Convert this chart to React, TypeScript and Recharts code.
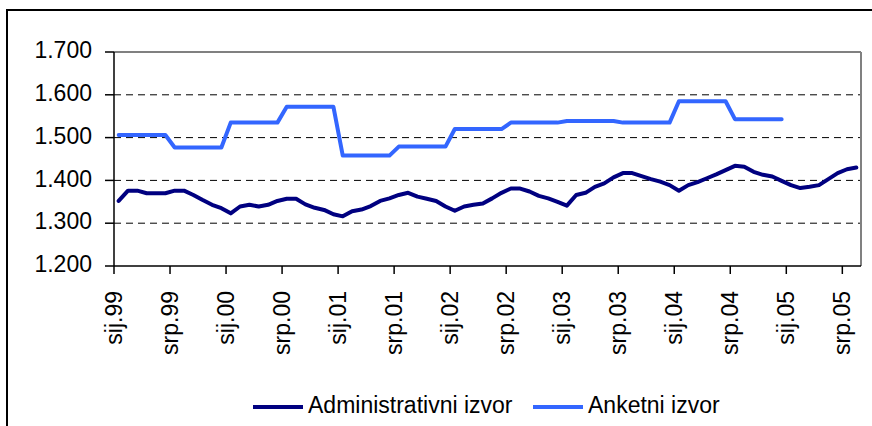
import React from 'react'
import { LineChart, Line, XAxis, YAxis, ReferenceLine } from 'recharts'

// monthly, sij.99 .. kol.05 (values in thousands, shown with '.' separator)
const adminValues = [
  1352, 1376, 1376, 1370, 1370, 1370, 1376, 1376, 1366, 1354, 1343, 1335,
  1323, 1339, 1343, 1339, 1343, 1352, 1357, 1357, 1344, 1336, 1331, 1321,
  1316, 1328, 1332, 1340, 1352, 1358, 1366, 1371, 1362, 1357, 1352, 1339,
  1329, 1339, 1343, 1346, 1358, 1371, 1381, 1381, 1374, 1364, 1358, 1350,
  1341, 1366, 1371, 1385, 1393, 1407, 1417, 1417, 1410, 1403, 1397, 1389,
  1376, 1389, 1396, 1405, 1414, 1424, 1434, 1432, 1420, 1413, 1409, 1399,
  1389, 1382, 1385, 1389, 1403, 1417, 1426, 1430,
]

// survey source, ends pro.04
const anketValues = [
  1506, 1506, 1506, 1506, 1506, 1506, 1477, 1477, 1477, 1477, 1477, 1477,
  1535, 1535, 1535, 1535, 1535, 1535, 1572, 1572, 1572, 1572, 1572, 1572,
  1458, 1458, 1458, 1458, 1458, 1458, 1479, 1479, 1479, 1479, 1479, 1479,
  1520, 1520, 1520, 1520, 1520, 1520, 1535, 1535, 1535, 1535, 1535, 1535,
  1539, 1539, 1539, 1539, 1539, 1539, 1535, 1535, 1535, 1535, 1535, 1535,
  1585, 1585, 1585, 1585, 1585, 1585, 1543, 1543, 1543, 1543, 1543, 1543,
]

const tickLabels = [
  'sij.99', 'srp.99', 'sij.00', 'srp.00', 'sij.01', 'srp.01', 'sij.02',
  'srp.02', 'sij.03', 'srp.03', 'sij.04', 'srp.04', 'sij.05', 'srp.05',
]
const xTicks = [-0.5, 5.5, 11.5, 17.5, 23.5, 29.5, 35.5, 41.5, 47.5, 53.5, 59.5, 65.5, 71.5, 77.5]

const yTicks = [1200, 1300, 1400, 1500, 1600, 1700]
const gridValues = [1300, 1400, 1500, 1600]

const data = adminValues.map((v, i) => ({
  i,
  admin: v,
  anket: i < anketValues.length ? anketValues[i] : null,
}))

const FONT = '"Liberation Sans", Arial, sans-serif'

const fmt = (v: number) => `${Math.floor(v / 1000)}.${String(v % 1000).padStart(3, '0')}`

const MonthTick = (props: any) => {
  const { x, y, payload } = props
  const idx = xTicks.indexOf(payload.value)
  return (
    <text
      x={x}
      y={y}
      dy='0.35em'
      transform={`rotate(-90 ${x} ${y})`}
      textAnchor='end'
      fontSize={23}
      fill='#000'
      fontFamily={FONT}
    >
      {tickLabels[idx]}
    </text>
  )
}

const ValueTick = (props: any) => {
  const { x, y, payload } = props
  return (
    <text x={x} y={y - 2} dy='0.355em' textAnchor='end' fontSize={23} fill='#000' fontFamily={FONT}>
      {fmt(payload.value)}
    </text>
  )
}

export default function App() {
  return (
    <div style={{ position: 'absolute', left: 0, top: 0, width: 872, height: 426, overflow: 'hidden', background: '#fff' }}>
      <div style={{ position: 'absolute', left: 6, top: 9, width: 900, height: 500, border: '2px solid #000' }} />
      <div style={{ position: 'absolute', left: 0, top: 0 }}>
        <LineChart width={872} height={426} data={data} margin={{ top: 52, right: 11, bottom: 0, left: 0 }}>
          {gridValues.map((g) => (
            <ReferenceLine key={g} y={g} stroke='#000' strokeWidth={1} strokeDasharray='7 5' />
          ))}
          <ReferenceLine y={1700} stroke='#808080' strokeWidth={2} />
          <ReferenceLine x={79.5} stroke='#808080' strokeWidth={2} />
          <XAxis
            dataKey='i'
            type='number'
            domain={[-0.5, 79.5]}
            ticks={xTicks}
            interval={0}
            height={160}
            tickSize={8}
            tickMargin={17}
            axisLine={{ stroke: '#000', strokeWidth: 1.5 }}
            tickLine={{ stroke: '#000', strokeWidth: 1.5 }}
            tick={<MonthTick />}
          />
          <YAxis
            type='number'
            domain={[1200, 1700]}
            ticks={yTicks}
            interval={0}
            width={114}
            tickSize={9}
            tickMargin={13}
            axisLine={{ stroke: '#000', strokeWidth: 1.5 }}
            tickLine={{ stroke: '#000', strokeWidth: 1.5 }}
            tick={<ValueTick />}
          />
          <Line
            type='linear'
            dataKey='anket'
            stroke='#3366ff'
            strokeWidth={4}
            dot={false}
            strokeLinejoin='round'
            strokeLinecap='round'
            isAnimationActive={false}
          />
          <Line
            type='linear'
            dataKey='admin'
            stroke='#000080'
            strokeWidth={4}
            dot={false}
            strokeLinejoin='round'
            strokeLinecap='round'
            isAnimationActive={false}
          />
        </LineChart>
      </div>
      <svg width={872} height={426} style={{ position: 'absolute', left: 0, top: 0, pointerEvents: 'none' }}>
        <line x1={253} x2={303} y1={407} y2={407} stroke='#000080' strokeWidth={4} />
        <text x={308} y={413} fontSize={23} fontFamily={FONT} fill='#000'>Administrativni izvor</text>
        <line x1={533} x2={583} y1={407} y2={407} stroke='#3366ff' strokeWidth={4} />
        <text x={588} y={413} fontSize={23} fontFamily={FONT} fill='#000'>Anketni izvor</text>
      </svg>
    </div>
  )
}
